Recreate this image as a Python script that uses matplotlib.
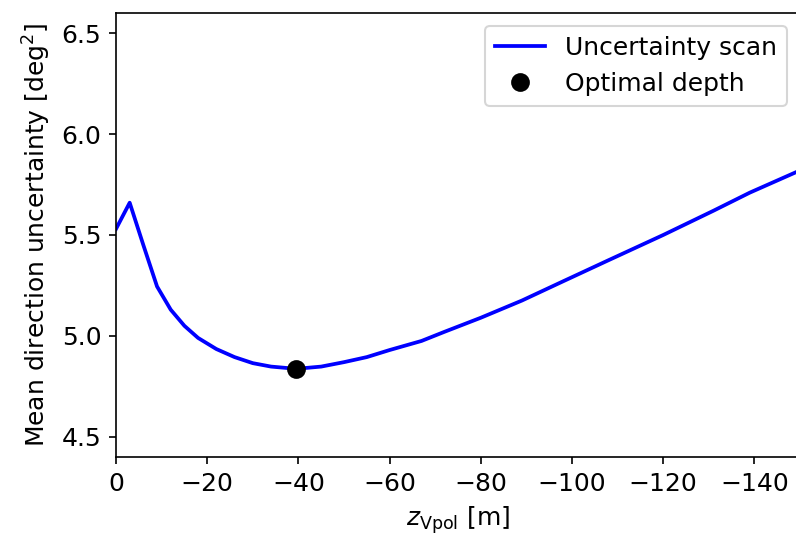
import matplotlib
matplotlib.use('Agg')
import matplotlib.pyplot as plt

plt.rcParams['font.size'] = 12

# scanned Vpol depths [m] and the mean direction uncertainty [deg^2]
depths = [0, -3, -6, -9, -12, -15, -18, -22, -26, -30, -34, -39.5, -45, -50,
          -55, -60, -67, -72, -80, -89, -98, -108, -120, -131, -139, -149]
uncertainty = [5.53, 5.66, 5.45, 5.245, 5.13, 5.05, 4.99, 4.935, 4.895, 4.865,
               4.848, 4.837, 4.848, 4.870, 4.895, 4.93, 4.975, 5.02, 5.09,
               5.175, 5.27, 5.375, 5.50, 5.62, 5.71, 5.81]
best_depth = [-39.5]
best_value = [4.837]

fig = plt.figure(figsize=(796 / 150, 536 / 150), dpi=150)
ax = fig.add_axes([116 / 796, 79 / 536, 684 / 796, 444 / 536])

ax.plot(depths, uncertainty, color='blue', lw=1.8, label='Uncertainty scan')
ax.plot(best_depth, best_value, 'o', color='black', ms=8, label='Optimal depth')

ax.set_xlim(0, -150)
ax.set_ylim(4.4, 6.6)
ax.set_yticks([4.5, 5.0, 5.5, 6.0, 6.5])
ax.set_xlabel(r'$z_{\mathrm{Vpol}}$ [m]')
ax.set_ylabel(r'Mean direction uncertainty [deg$^2$]')
ax.legend(loc='upper right')

fig.savefig('out.png', dpi=150)
